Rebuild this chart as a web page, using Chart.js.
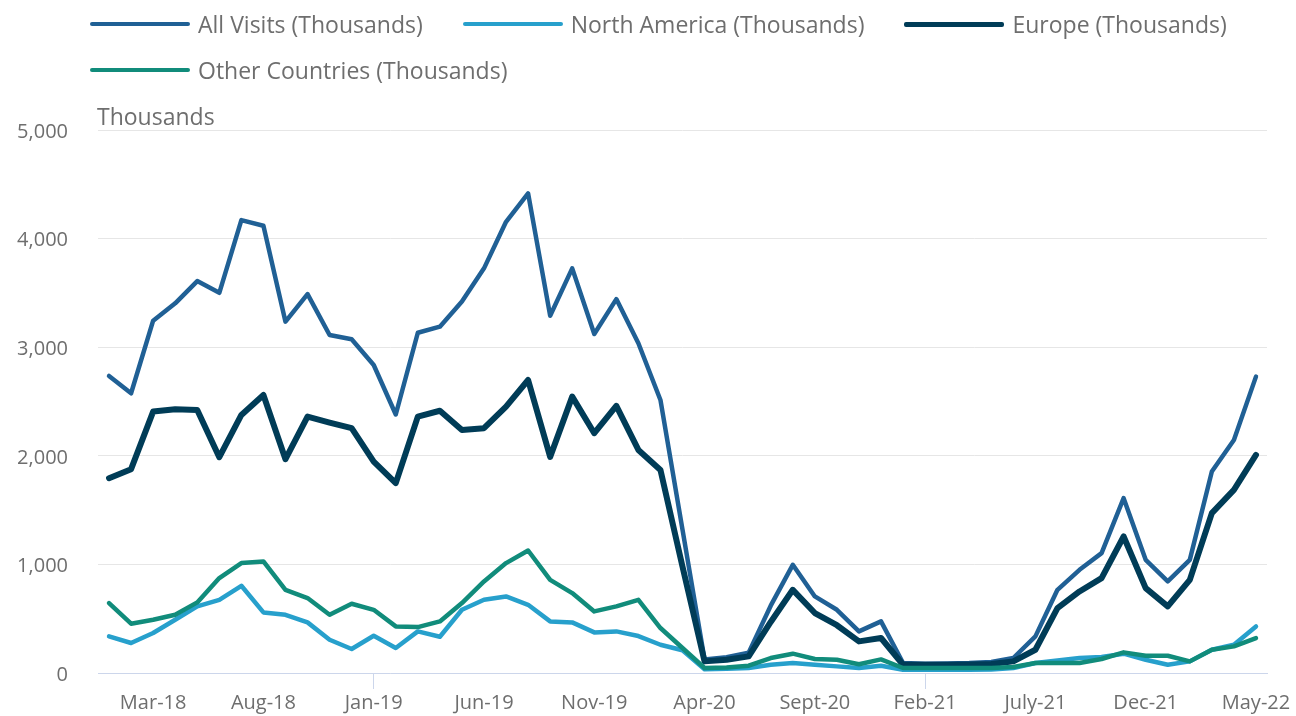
<!DOCTYPE html>
<html>
<head>
<meta charset="utf-8">
<script src="https://cdn.jsdelivr.net/npm/chart.js@4.4.1/dist/chart.umd.min.js"></script>
<style>
  html, body { margin: 0; padding: 0; background: #ffffff; }
  #wrap { position: relative; width: 1296px; height: 716px; overflow: hidden; font-family: 'Open Sans', sans-serif; }
  #chart { position: absolute; left: 0; top: 0; }
  #legend { position: absolute; left: 90px; top: 1px; width: 1170px; display: flex; flex-wrap: wrap; column-gap: 40px; }
  .item { display: flex; align-items: center; height: 46px; }
  .swatch { width: 100px; border-radius: 2px; margin-right: 8px; }
  .ltext { font-size: 23px; color: #6e6e6e; white-space: nowrap; }
  #unit { position: absolute; left: 97px; top: 102px; font-size: 23px; line-height: 28px; color: #6e6e6e; }
</style>
</head>
<body>
<div id="wrap">
  <canvas id="chart" width="1296" height="716"></canvas>
  <div id="legend"></div>
  <div id="unit">Thousands</div>
</div>
<script>
const months = [
  'Jan-18','Feb-18','Mar-18','Apr-18','May-18','Jun-18','Jul-18','Aug-18','Sept-18','Oct-18','Nov-18','Dec-18',
  'Jan-19','Feb-19','Mar-19','Apr-19','May-19','Jun-19','Jul-19','Aug-19','Sept-19','Oct-19','Nov-19','Dec-19',
  'Jan-20','Feb-20','Mar-20','Apr-20','May-20','Jun-20','Jul-20','Aug-20','Sept-20','Oct-20','Nov-20','Dec-20',
  'Jan-21','Feb-21','Mar-21','Apr-21','May-21','June-21','July-21','Aug-21','Sept-21','Oct-21','Nov-21','Dec-21',
  'Jan-22','Feb-22','Mar-22','Apr-22','May-22'
];
const tickLabels = ['Mar-18','Aug-18','Jan-19','Jun-19','Nov-19','Apr-20','Sept-20','Feb-21','July-21','Dec-21','May-22'];

const allVisits = [2735,2576,3244,3404,3609,3501,4170,4118,3235,3489,3112,3073,
                   2836,2380,3133,3189,3420,3726,4155,4416,3290,3726,3121,3443,
                   3036,2514,1320,125,145,188,620,996,705,582,383,475,
                   92,86,88,92,101,138,337,766,950,1104,1610,1042,
                   843,1042,1855,2146,2729];
const northAmerica = [337,276,368,490,613,674,803,558,536,466,306,221,
                      343,230,383,334,582,674,705,628,475,466,374,383,
                      340,260,210,35,40,46,76,92,76,61,46,67,
                      30,30,30,30,32,46,92,116,138,147,178,122,
                      76,107,214,260,429];
const europe = [1794,1877,2407,2429,2422,1987,2376,2560,1969,2361,2306,2254,
                1947,1748,2361,2415,2238,2254,2453,2698,1990,2545,2208,2460,
                2054,1870,980,107,122,153,470,766,552,440,291,322,
                76,76,76,78,82,107,214,598,751,874,1257,782,
                613,858,1472,1686,2008];
const otherCountries = [644,454,490,536,650,874,1012,1027,766,690,536,638,
                        582,429,423,475,644,843,1012,1128,858,736,567,613,
                        674,414,230,46,50,67,138,178,129,122,80,125,
                        46,46,46,46,46,55,92,92,92,129,190,159,
                        159,107,214,245,322];

const seriesNames = ['All Visits (Thousands)','North America (Thousands)','Europe (Thousands)','Other Countries (Thousands)'];
const seriesColors = ['#206095','#27A0CC','#003C57','#118C7B'];
const seriesWidths = [4.5, 4.5, 6, 4.5];
const seriesData = [allVisits, northAmerica, europe, otherCountries];

// HTML legend
const legend = document.getElementById('legend');
seriesNames.forEach((name, i) => {
  const item = document.createElement('div');
  item.className = 'item';
  const sw = document.createElement('div');
  sw.className = 'swatch';
  sw.style.background = seriesColors[i];
  sw.style.height = (i === 2 ? 5 : 4) + 'px';
  const t = document.createElement('span');
  t.className = 'ltext';
  t.textContent = name;
  item.appendChild(sw);
  item.appendChild(t);
  legend.appendChild(item);
});

Chart.defaults.font.family = "'Open Sans', sans-serif";
Chart.defaults.color = '#6e6e6e';

new Chart(document.getElementById('chart'), {
  type: 'line',
  data: {
    labels: months,
    datasets: seriesData.map((d, i) => ({
      label: seriesNames[i],
      data: d,
      borderColor: seriesColors[i],
      backgroundColor: seriesColors[i],
      borderWidth: seriesWidths[i],
      pointRadius: 0,
      tension: 0,
      borderCapStyle: 'round',
      borderJoinStyle: 'round',
      fill: false,
      order: 3 - i
    }))
  },
  options: {
    responsive: false,
    animation: false,
    devicePixelRatio: 1,
    layout: { padding: { top: 130, right: 29, left: 0, bottom: 0 } },
    plugins: { legend: { display: false }, tooltip: { enabled: false }, title: { display: false } },
    scales: {
      x: {
        offset: true,
        afterFit: s => { s.height = 43; },
        grid: {
          offset: false,
          drawOnChartArea: false,
          drawTicks: true,
          tickLength: 16,
          lineWidth: 1,
          color: ctx => tickLabels.includes(months[ctx.index]) ? '#ccd6eb' : 'rgba(0,0,0,0)'
        },
        border: { display: true, color: '#ccd6eb', width: 1 },
        ticks: {
          autoSkip: false,
          maxRotation: 0,
          minRotation: 0,
          padding: 2,
          font: { size: 20 },
          color: '#6e6e6e',
          callback: function(v, i) { const l = months[i]; return tickLabels.includes(l) ? l : null; }
        }
      },
      y: {
        min: 0,
        max: 5000,
        afterFit: s => { s.width = 98; },
        grid: { color: '#e6e6e6', lineWidth: 1, drawTicks: false },
        border: { display: false },
        ticks: {
          stepSize: 1000,
          padding: 30,
          labelOffset: 2,
          font: { size: 20 },
          color: '#6e6e6e'
        }
      }
    }
  }
});
</script>
</body>
</html>
